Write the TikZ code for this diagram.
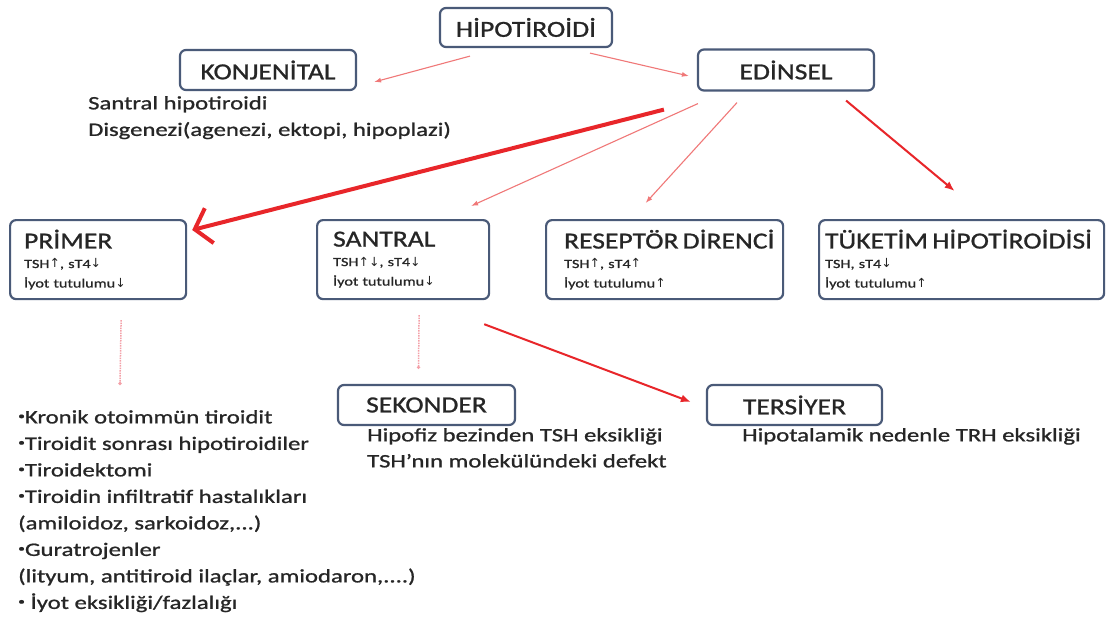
\documentclass[tikz,border=0pt]{standalone}
\usepackage{graphicx}
\usepackage{fontspec}
\setmainfont{Carlito}[FakeStretch=1.3,FakeBold=1]
\newfontfamily\ttlfont{Carlito}[FakeStretch=1.2,FakeBold=1]
\newfontfamily\arrfont{DejaVu Sans}
\usetikzlibrary{arrows.meta}
\definecolor{boxline}{HTML}{4A5A78}
\definecolor{ink}{HTML}{262626}
\definecolor{thinred}{HTML}{F07878}
\definecolor{midred}{HTML}{E8262A}
\definecolor{dotred}{HTML}{F4A0A8}
\newcommand\upa{{\arrfont\char"2191}}
\newcommand\dna{{\arrfont\char"2193}}
\newcommand\blt{\raisebox{0.45ex}{\scalebox{0.55}{•}}}
\begin{document}
\begin{tikzpicture}[x=1pt,y=-1pt,
  box/.style={draw=boxline, line width=2.2pt, rounded corners=6pt, fill=white, text=ink, inner sep=0pt},
  topbox/.style={box, font=\ttlfont\fontsize{23}{23}\selectfont},
  levbox/.style={box, align=left, anchor=north west, minimum height=79pt, inner ysep=0pt,
                 font=\fontsize{12.5}{19.5}\selectfont},
  body/.style={text=ink, font=\fontsize{19}{26.5}\selectfont, align=left, inner sep=0pt, anchor=north west},
  thinarrow/.style={draw=thinred, line width=1.1pt, -{Latex[length=7pt,width=5pt]}},
  midarrow/.style={draw=midred, line width=2pt, -{Latex[length=10pt,width=8pt]}},
  thickarrow/.style={draw=midred, line width=4pt, -{Straight Barb[length=15pt,width=36pt]}},
  dotline/.style={draw=dotred, line width=1.5pt, densely dotted, -{Circle[length=3pt]}},
]
\fill[white] (0,0) rectangle (1107,621);
\useasboundingbox (0,0) rectangle (1107,621);

% top levels
\node[topbox, minimum width=172pt, minimum height=39pt] (hipo) at (526,27.5) {HİPOTİROİDİ};
\node[topbox, minimum width=176pt, minimum height=40pt] (konj) at (268,70) {KONJENİTAL};
\node[topbox, minimum width=176pt, minimum height=41pt] (edin) at (786,70) {EDİNSEL};

\node[body] (konjtxt) at (88,96) {Santral hipotiroidi\\Disgenezi(agenezi, ektopi, hipoplazi)};

% acquired forms
\node[levbox, inner xsep=14pt, text width=148pt] (primer) at (9,219)
  {{\ttlfont\fontsize{23}{19.5}\selectfont PRİMER}\\TSH\upa, sT4\dna\\İyot tutulumu\dna};
\node[levbox, inner xsep=16pt, text width=140pt] (santral) at (316,219)
  {{\ttlfont\fontsize{23}{19.5}\selectfont SANTRAL}\\TSH\upa\dna, sT4\dna\\İyot tutulumu\dna};
\node[levbox, inner xsep=18pt, text width=201pt] (reseptor) at (545,219)
  {\mbox{\ttlfont\fontsize{23}{19.5}\selectfont RESEPTÖR DİRENCİ}\\TSH\upa, sT4\upa\\İyot tutulumu\upa};
\node[levbox, inner xsep=6pt, text width=273pt] (tuketim) at (818,219)
  {\mbox{\ttlfont\fontsize{23}{19.5}\selectfont TÜKETİM HİPOTİROİDİSİ}\\TSH, sT4\dna\\İyot tutulumu\upa};

% central subtypes
\node[topbox, minimum width=177pt, minimum height=40pt] (sekonder) at (426.5,405) {SEKONDER};
\node[topbox, minimum width=175pt, minimum height=40pt] (tersiyer) at (794.5,405) {TERSİYER};
\node[body, font=\fontsize{19}{26}\selectfont] (sektxt) at (367,428)
  {Hipofiz bezinden TSH eksikliği\\TSH'nın molekülündeki defekt};
\node[body] (tertxt) at (742,428) {Hipotalamik nedenle TRH eksikliği};

% causes of primary hypothyroidism
\node[body] (causes) at (18,410)
  {\blt Kronik otoimmün tiroidit\\
   \blt Tiroidit sonrası hipotiroidiler\\
   \blt Tiroidektomi\\
   \blt Tiroidin infiltratif hastalıkları\\
   (amiloidoz, sarkoidoz,...)\\
   \blt Guratrojenler\\
   (lityum, antitiroid ilaçlar, amiodaron,....)\\
   \blt\ İyot eksikliği/fazlalığı};
\coordinate (pend) at (120,385);

% connectors
\draw[thinarrow] ([shift={(-56,8)}]hipo.south) -- ([shift={(17,12)}]konj.east);
\draw[thinarrow] ([shift={(64,5)}]hipo.south) -- ([shift={(-8,6)}]edin.west);
\draw[thickarrow] ([shift={(-33,18)}]edin.south west) -- ([shift={(5,11)}]primer.north east);
\draw[thinarrow] ([shift={(1,12)}]edin.south west) -- ([shift={(68,-13)}]santral.north);
\draw[thinarrow] ([shift={(-49,11)}]edin.south) -- ([shift={(-19,-16)}]reseptor.north);
\draw[midarrow] ([shift={(-29,9)}]edin.south east) -- ([shift={(-7,-28)}]tuketim.north);
\draw[dotline] ([shift={(23,20)}]primer.south) -- (pend);
\draw[dotline] ([shift={(16,15)}]santral.south) -- ([shift={(-8,-15)}]sekonder.north);
\draw[midarrow] ([shift={(-6,24)}]santral.south east) -- ([shift={(-15,-3)}]tersiyer.west);
\end{tikzpicture}
\end{document}
